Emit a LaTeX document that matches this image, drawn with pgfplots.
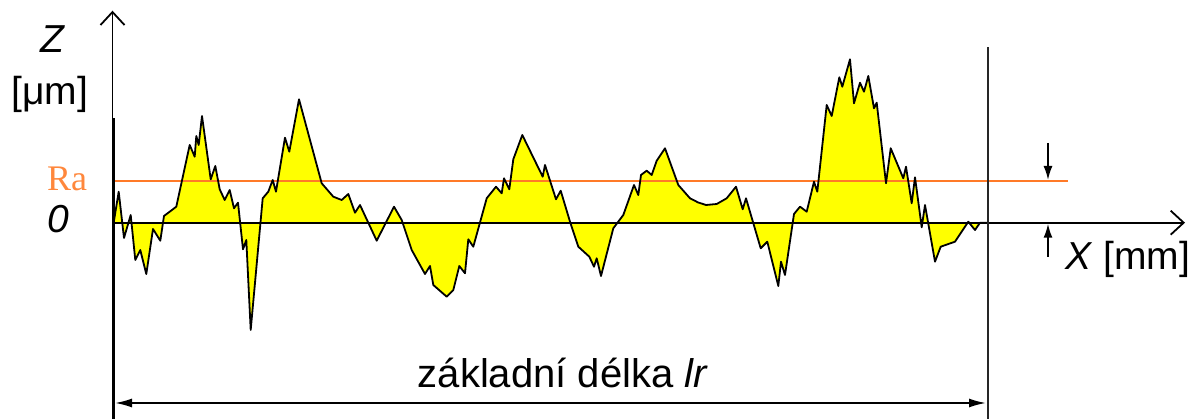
\documentclass[border=0pt]{standalone}
\usepackage{pgfplots}
\pgfplotsset{compat=1.18}
\usetikzlibrary{arrows.meta}
\usepackage{fontspec}
\setmainfont{Liberation Sans}
\newfontfamily\seriffont{Liberation Serif}
\definecolor{raorange}{RGB}{255,122,40}
\definecolor{ratext}{RGB}{255,135,60}
\definecolor{profyellow}{RGB}{255,255,0}
\pgfplotstableread{
x y
114 0
114 2
118.7 31
124 -15.3
130.7 7.7
135.3 -37.3
140.3 -27.3
146.3 -51.3
153 -6.3
160.3 -18
164 6.7
176.3 16
189.7 77.7
194.7 66
196.3 86.7
198.7 77.7
202 106.7
210.7 43.4
215.3 56.7
219.7 33.4
224.7 22.7
229.7 32.7
234 14.4
238 20
243 -26.6
246.3 -17.3
250.7 -107.3
262.7 24.4
268.3 31
272.7 42.7
276 31
285 85
289.3 71
299 123.4
321.7 39.4
333.3 26
341.7 22.7
348.3 28.7
355 10
360 17.7
376.7 -18
394 16
401.7 2.7
411.7 -27.3
425 -51.3
430 -43.3
433.3 -62.3
446.7 -74
453.3 -67.3
459.3 -43.3
465 -50.6
468.3 -16.6
473.3 -24
486.7 24.4
496 36
501.7 29.4
504 44.4
509.3 33.4
513.3 63.4
522.3 87.7
542.7 46
545 57.7
556 23.4
560.7 32
570 1
578.3 -24
589.3 -34
594 -44
596.7 -35.6
601 -53.3
613.3 -5.6
623.3 7.7
634 37.7
638.3 27.7
641 47.7
646.7 52
651.7 47.7
656.7 62
665 74.4
678.3 37.7
690 24.4
698 20.3
706 17.7
716.7 18.7
726.7 24.4
736 36
742.7 13.4
746 24.4
760.7 -25.6
767.3 -19
778.3 -63.3
781 -39
785 -52.3
794 8.7
800 16
806.7 11
814 41
817.3 31
826.7 117.7
831.7 106.7
839.3 145.4
842.3 136
850 163.4
854 119.4
860 140
864 131
868.3 146.7
874 114.4
876.7 120
886 39.4
890.7 74.4
903.3 44.4
906 56
911.7 19.4
915 45.4
921.7 -4.6
925 17.7
935 -39
940.7 -24
955 -19
968.3 1
975 -7.3
980 0
987 0
}\profile
\pgfplotstableread{
x y
114 41.7
1068 41.7
}\raline
\begin{document}
\begin{tikzpicture}
\begin{axis}[x=1pt, y=1pt, xmin=0, xmax=1203, ymin=-196.3, ymax=222.7,
  hide axis, clip=false]
\path (axis cs:0,-196.3) rectangle (axis cs:1203,222.7);
\addplot[fill=profyellow, draw=none] table {\profile};
\addplot[raorange, line width=2pt] table {\raline};
% zero line / x axis
\draw[line width=1.9pt, -{Straight Barb[length=13pt,width=24pt,line width=1.8pt]}] (axis cs:113,0) -- (axis cs:1185,0);
\addplot[black, line width=1.8pt, line join=round] table {\profile};
% y axis
\draw[line width=1.9pt, -{Straight Barb[length=13pt,width=24pt,line width=1.8pt]}] (axis cs:112.5,-196.3) -- (axis cs:112.5,212);
\draw[line width=1.9pt] (axis cs:113.8,-196.3) -- (axis cs:113.8,104.7);
% right boundary
\draw[line width=2pt, black!85] (axis cs:988,-196.3) -- (axis cs:988,175.7);
% Ra indicator arrows
\draw[line width=1.8pt, -{Latex[length=14pt,width=9pt]}] (axis cs:1048,79.7) -- (axis cs:1048,42.7);
\draw[line width=1.8pt, -{Latex[length=14pt,width=9pt]}] (axis cs:1048,-34.3) -- (axis cs:1048,-1);
% base length arrow
\draw[line width=1.8pt, {Latex[length=17pt,width=9pt]}-{Latex[length=17pt,width=9pt]}] (axis cs:115,-180.3) -- (axis cs:986,-180.3);
% texts
\node[anchor=base, font=\fontsize{39}{46}\selectfont\itshape] at (axis cs:52,169.7) {Z};
\node[anchor=base, font=\fontsize{39}{46}\selectfont] at (axis cs:50,117.7) {[μm]};
\node[anchor=base, font=\fontsize{36}{42}\selectfont\seriffont, text=ratext] at (axis cs:67,32) {Ra};
\node[anchor=base, font=\fontsize{39}{46}\selectfont\itshape] at (axis cs:58,-10.3) {0};
\node[anchor=base west, inner sep=0pt, font=\fontsize{39}{46}\selectfont] at (axis cs:1065,-47.3) {\textit{X} [mm]};
\node[anchor=base, font=\fontsize{40}{48}\selectfont] at (axis cs:563,-165.3) {základní délka \textit{lr}};
\end{axis}
\end{tikzpicture}
\end{document}
